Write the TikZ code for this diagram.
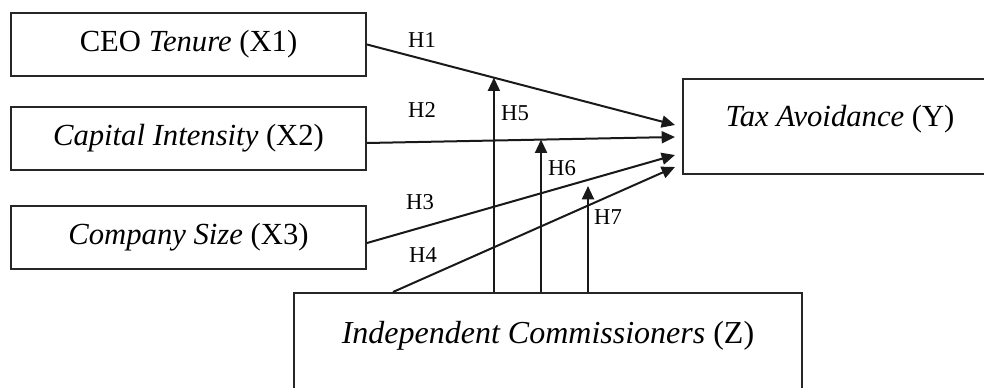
\documentclass[tikz,border=0pt]{standalone}
\usepackage{fontspec}
\setmainfont{Liberation Serif}
\usetikzlibrary{arrows.meta}
\begin{document}
\begin{tikzpicture}[x=0.75pt,y=-0.75pt,
  box/.style={draw=black!85, line width=1.5pt, inner sep=0pt, font=\fontsize{23}{27}\selectfont},
  conn/.style={draw=black!90, line width=1.5pt, -{Triangle[length=10pt,width=9pt]}},
  hlab/.style={font=\fontsize{17}{20}\selectfont, inner sep=0pt}]
\useasboundingbox (0,0) rectangle (984,388);
\clip (0,0) rectangle (984,388);
% boxes
\node[box, minimum width=266.25pt, minimum height=47.25pt] (X1) at (188.5,44.5) {CEO \textit{Tenure} (X1)};
\node[box, minimum width=266.25pt, minimum height=47.25pt] (X2) at (188.5,138.5) {\textit{Capital Intensity} (X2)};
\node[box, minimum width=266.25pt, minimum height=47.25pt] (X3) at (188.5,237.5) {\textit{Company Size} (X3)};
\node[box, minimum width=235.5pt, text height=35.6pt, text depth=35.6pt] (Y) at (840,126.5) {\textit{Tax Avoidance} (Y)};
\node[box, anchor=north, minimum width=381pt, text height=37.5pt, text depth=90pt, font=\fontsize{24}{28}\selectfont] (Z) at (548,292) {\textit{Independent Commissioners} (Z)};
% arrow tips near Y
\coordinate (t1) at (675,125);
\coordinate (t2) at (675,137);
\coordinate (t3) at (675,155);
\coordinate (t4) at (675,167);
% start points
\coordinate (s2) at (X2.east |- 0,143);
\coordinate (s3) at (X3.east |- 0,243);
\coordinate (s4) at (Z.north -| 393,0);
% direct effects
\draw[conn] (X1.east) -- (t1);
\draw[conn] (s2) -- (t2);
\draw[conn] (s3) -- (t3);
\draw[conn] (s4) -- (t4);
% moderation targets
\path (X1.east) -- (t1) coordinate[pos=0.412] (m5);
\path (s2) -- (t2) coordinate[pos=0.565] (m6);
\coordinate (m7) at (588,186);
\draw[conn] (Z.north -| m5) -- (m5);
\draw[conn] (Z.north -| m6) -- (m6);
\draw[conn] (Z.north -| m7) -- (m7);
% labels
\node[hlab] (L1) at (422,40) {H1};
\node[hlab] (L2) at (422,110) {H2};
\node[hlab] (L3) at (420,202) {H3};
\node[hlab] (L4) at (423,255) {H4};
\node[hlab] (L5) at (515,113) {H5};
\node[hlab] (L6) at (562,168) {H6};
\node[hlab] (L7) at (608,217) {H7};
\end{tikzpicture}
\end{document}
